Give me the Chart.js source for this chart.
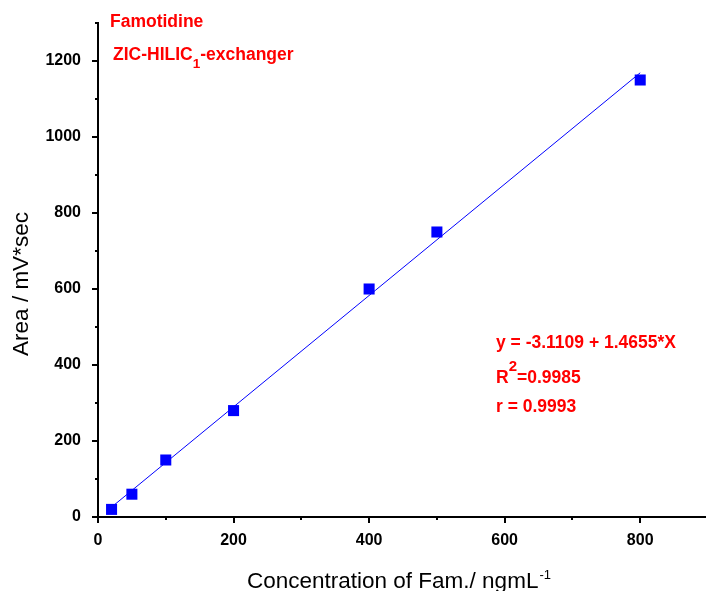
<!DOCTYPE html>
<html>
<head>
<meta charset="utf-8">
<script src="https://cdn.jsdelivr.net/npm/chart.js@4.4.1/dist/chart.umd.min.js"></script>
<style>
  html, body { margin: 0; padding: 0; background: #fff; overflow: hidden; }
  #wrap { width: 706px; height: 591px; overflow: hidden; }
</style>
</head>
<body>
<div id="wrap"><canvas id="myChart" width="708" height="591"></canvas></div>
<script>
// calibration points (concentration ng/mL -> peak area)
let conc = [20, 50, 100, 200, 400, 500, 800]
let area = [20, 60, 150, 280, 600, 750, 1150]

// fitted line, end points
let fit_x = [20, 800]
let fit_y = [26, 1169]

let x_ticks_major = [0, 200, 400, 600, 800]
let y_ticks_major = [0, 200, 400, 600, 800, 1000, 1200]

const FONT = "'Liberation Sans', Arial, sans-serif"
const RED = '#ff0000'

function isMajor(list, v) {
    return list.some(m => Math.abs(m - v) < 1e-6)
}

function txt(ctx, s, x, y, size, bold, color) {
    ctx.font = (bold ? 'bold ' : '') + size + 'px ' + FONT
    ctx.fillStyle = color
    ctx.fillText(s, x, y)
    return x + ctx.measureText(s).width
}

// minor/major tick marks + the free text of the figure
const decor = {
    id: 'decor',
    afterDraw(chart) {
        const ctx = chart.ctx
        const xs = chart.scales.x, ys = chart.scales.y
        ctx.save()
        ctx.strokeStyle = '#000'
        ctx.lineWidth = 2
        xs.ticks.forEach(t => {
            const px = Math.round(xs.getPixelForValue(t.value))
            const len = isMajor(x_ticks_major, t.value) ? 6 : 3
            ctx.beginPath(); ctx.moveTo(px, xs.top); ctx.lineTo(px, xs.top + len); ctx.stroke()
        })
        ys.ticks.forEach(t => {
            const py = Math.round(ys.getPixelForValue(t.value))
            const len = isMajor(y_ticks_major, t.value) ? 6 : 3
            ctx.beginPath(); ctx.moveTo(ys.right, py); ctx.lineTo(ys.right - len, py); ctx.stroke()
        })

        ctx.textBaseline = 'alphabetic'
        ctx.textAlign = 'left'
        // top left labels
        txt(ctx, 'Famotidine', 110, 27, 17.5, true, RED)
        let nx = txt(ctx, 'ZIC-HILIC', 113, 60, 17.5, true, RED)
        nx = txt(ctx, '1', nx, 68, 13.5, true, RED)
        txt(ctx, '-exchanger', nx, 60, 17.5, true, RED)

        // regression text
        txt(ctx, 'y = -3.1109 + 1.4655*X', 496, 348, 17.5, true, RED)
        nx = txt(ctx, 'R', 496, 383, 17.5, true, RED)
        nx = txt(ctx, '2', nx, 371, 15, true, RED)
        txt(ctx, '=0.9985', nx, 383, 17.5, true, RED)
        txt(ctx, 'r = 0.9993', 496, 412, 17.5, true, RED)

        // axis titles
        nx = txt(ctx, 'Concentration of Fam./ ngmL', 247, 588, 22.5, false, '#000')
        txt(ctx, '-1', nx + 1, 579, 13, false, '#000')

        ctx.translate(28, 284)
        ctx.rotate(-Math.PI / 2)
        ctx.textAlign = 'center'
        txt(ctx, 'Area / mV*sec', 0, 0, 22.5, false, '#000')
        ctx.restore()
    }
}

const ctx = document.getElementById('myChart').getContext('2d')

const myChart = new Chart(ctx, {
    type: 'scatter',
    data: {
        datasets: [{
            type: 'line',
            label: 'fit',
            data: fit_x.map((v, i) => ({x: v, y: fit_y[i]})),
            borderColor: '#0000ff',
            borderWidth: 1,
            pointRadius: 0,
            fill: false,
            order: 2
        }, {
            label: 'Famotidine',
            data: conc.map((v, i) => ({x: v, y: area[i]})),
            pointStyle: 'rect',
            pointRadius: 7.8,
            pointBorderWidth: 0,
            backgroundColor: '#0000ff',
            borderColor: '#0000ff',
            order: 1
        }]
    },
    options: {
        responsive: false,
        animation: false,
        layout: { autoPadding: false, padding: { top: 23, right: 0, left: 0, bottom: 0 } },
        plugins: { legend: { display: false }, tooltip: { enabled: false } },
        scales: {
            x: {
                type: 'linear',
                min: 0, max: 900,
                grid: { display: false, drawTicks: false },
                border: { display: true, color: '#000', width: 2 },
                ticks: {
                    stepSize: 100, autoSkip: false, maxRotation: 0,
                    padding: 14, color: '#000',
                    font: { family: FONT, size: 16, weight: 'bold' },
                    callback: v => isMajor(x_ticks_major, v) ? String(Math.round(v)) : ''
                },
                afterFit: s => { s.height = 74; s.paddingLeft = 0; s.paddingRight = 0 }
            },
            y: {
                type: 'linear',
                min: 0, max: 1300,
                grid: { display: false, drawTicks: false },
                border: { display: true, color: '#000', width: 2 },
                ticks: {
                    stepSize: 100, autoSkip: false,
                    padding: 17, color: '#000',
                    font: { family: FONT, size: 16, weight: 'bold' },
                    callback: v => isMajor(y_ticks_major, v) ? String(Math.round(v)) : ''
                },
                afterFit: s => { s.width = 98; s.paddingTop = 0; s.paddingBottom = 0 }
            }
        }
    },
    plugins: [decor]
})
</script>
</body>
</html>
